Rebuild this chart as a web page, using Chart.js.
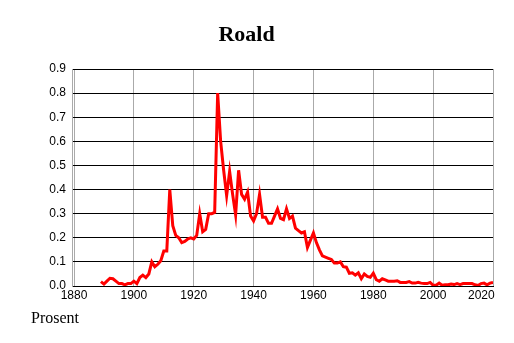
<!DOCTYPE html>
<html>
<head>
<meta charset="utf-8">
<script src="https://cdn.jsdelivr.net/npm/chart.js@4/dist/chart.umd.min.js"></script>
<style>
  html, body { margin: 0; padding: 0; background: #fff; }
  #wrap { width: 514px; height: 343px; }
</style>
</head>
<body>
<div id="wrap"><canvas id="nameChart"></canvas></div>
<script>
const years = [];
for (let y = 1889; y <= 2020; y++) years.push(y);

const percent = [
  0.018, 0.008, 0.020, 0.032, 0.030, 0.020, 0.010, 0.010, 0.005, 0.010, 0.010, // 1889-1899
  0.020, 0.010, 0.035, 0.045, 0.035, 0.050, 0.100, 0.080, 0.090, 0.105,        // 1900-1909
  0.145, 0.145, 0.400, 0.250, 0.210, 0.200, 0.180, 0.185, 0.195, 0.200,        // 1910-1919
  0.195, 0.210, 0.300, 0.225, 0.235, 0.300, 0.300, 0.305, 0.800, 0.600,        // 1920-1929
  0.480, 0.375, 0.475, 0.380, 0.295, 0.480, 0.380, 0.360, 0.390, 0.290,        // 1930-1939
  0.270, 0.300, 0.380, 0.285, 0.285, 0.260, 0.260, 0.290, 0.320, 0.280,        // 1940-1949
  0.275, 0.320, 0.280, 0.290, 0.240, 0.230, 0.220, 0.225, 0.160, 0.190,        // 1950-1959
  0.220, 0.180, 0.150, 0.125, 0.120, 0.115, 0.110, 0.095, 0.095, 0.100,        // 1960-1969
  0.080, 0.078, 0.053, 0.055, 0.045, 0.055, 0.030, 0.050, 0.040, 0.036,        // 1970-1979
  0.053, 0.026, 0.020, 0.030, 0.025, 0.020, 0.020, 0.020, 0.022, 0.015,        // 1980-1989
  0.015, 0.015, 0.018, 0.012, 0.012, 0.015, 0.012, 0.010, 0.010, 0.015,        // 1990-1999
  0.003, 0.003, 0.012, 0.003, 0.005, 0.005, 0.008, 0.006, 0.010, 0.006,        // 2000-2009
  0.010, 0.010, 0.010, 0.010, 0.005, 0.002, 0.010, 0.012, 0.005, 0.012, 0.015  // 2010-2020
];

const xTicks = [1880, 1900, 1920, 1940, 1960, 1980, 2000, 2020];
const yTicks = [0, 0.1, 0.2, 0.3, 0.4, 0.5, 0.6, 0.7, 0.8, 0.9];

const points = years.map((yr, i) => ({ x: yr, y: percent[i] }));

// "Prosent" under the axis, left side
const unitLabel = {
  id: 'unitLabel',
  afterDraw(chart) {
    const c = chart.ctx;
    c.save();
    c.font = '16px "Liberation Serif", serif';
    c.fillStyle = '#000';
    c.textBaseline = 'alphabetic';
    c.fillText('Prosent', 31, 323);
    c.restore();
  }
};

const ctx = document.getElementById('nameChart').getContext('2d');
const nameChart = new Chart(ctx, {
  type: 'line',
  data: {
    datasets: [{
      label: 'Roald',
      data: points,
      borderColor: '#ff0000',
      borderWidth: 3,
      pointRadius: 0,
      tension: 0,
      fill: false
    }]
  },
  options: {
    responsive: true,
    maintainAspectRatio: false,
    animation: false,
    layout: { padding: { left: 0, right: 21, top: 0, bottom: 0 } },
    plugins: {
      legend: { display: false },
      tooltip: { enabled: false },
      title: {
        display: true,
        text: 'Roald',
        color: '#000',
        font: { family: '"Liberation Serif", serif', size: 22, weight: 'bold' },
        padding: { top: 22, bottom: 20.6 }
      }
    },
    scales: {
      x: {
        type: 'linear',
        min: 1879.33,
        max: 2020,
        afterBuildTicks: (axis) => { axis.ticks = xTicks.map(v => ({ value: v })); },
        afterFit: (axis) => {
          axis.height = 57;
          axis.paddingLeft = 0;
          axis.paddingRight = 0;
        },
        ticks: {
          color: '#000',
          font: { family: '"Liberation Sans", Arial, sans-serif', size: 12 },
          padding: 2,
          maxRotation: 0,
          autoSkip: false,
          // last label sits inside the plot edge, as in the original
          callback: (v) => v === 2020 ? String(v) + '       ' : String(v)
        },
        grid: { color: '#aaaaaa', lineWidth: 1, tickLength: 0 },
        border: { color: '#000', width: 1 }
      },
      y: {
        min: 0,
        max: 0.9,
        afterBuildTicks: (axis) => { axis.ticks = yTicks.map(v => ({ value: v })); },
        afterFit: (axis) => { axis.width = 72; },
        ticks: {
          color: '#000',
          font: { family: '"Liberation Sans", Arial, sans-serif', size: 12 },
          padding: 6,
          callback: (v) => v.toFixed(1)
        },
        grid: { color: '#000', lineWidth: 1, tickLength: 0 },
        border: { color: '#aaaaaa', width: 1 }
      }
    }
  },
  plugins: [unitLabel]
});
</script>
</body>
</html>
